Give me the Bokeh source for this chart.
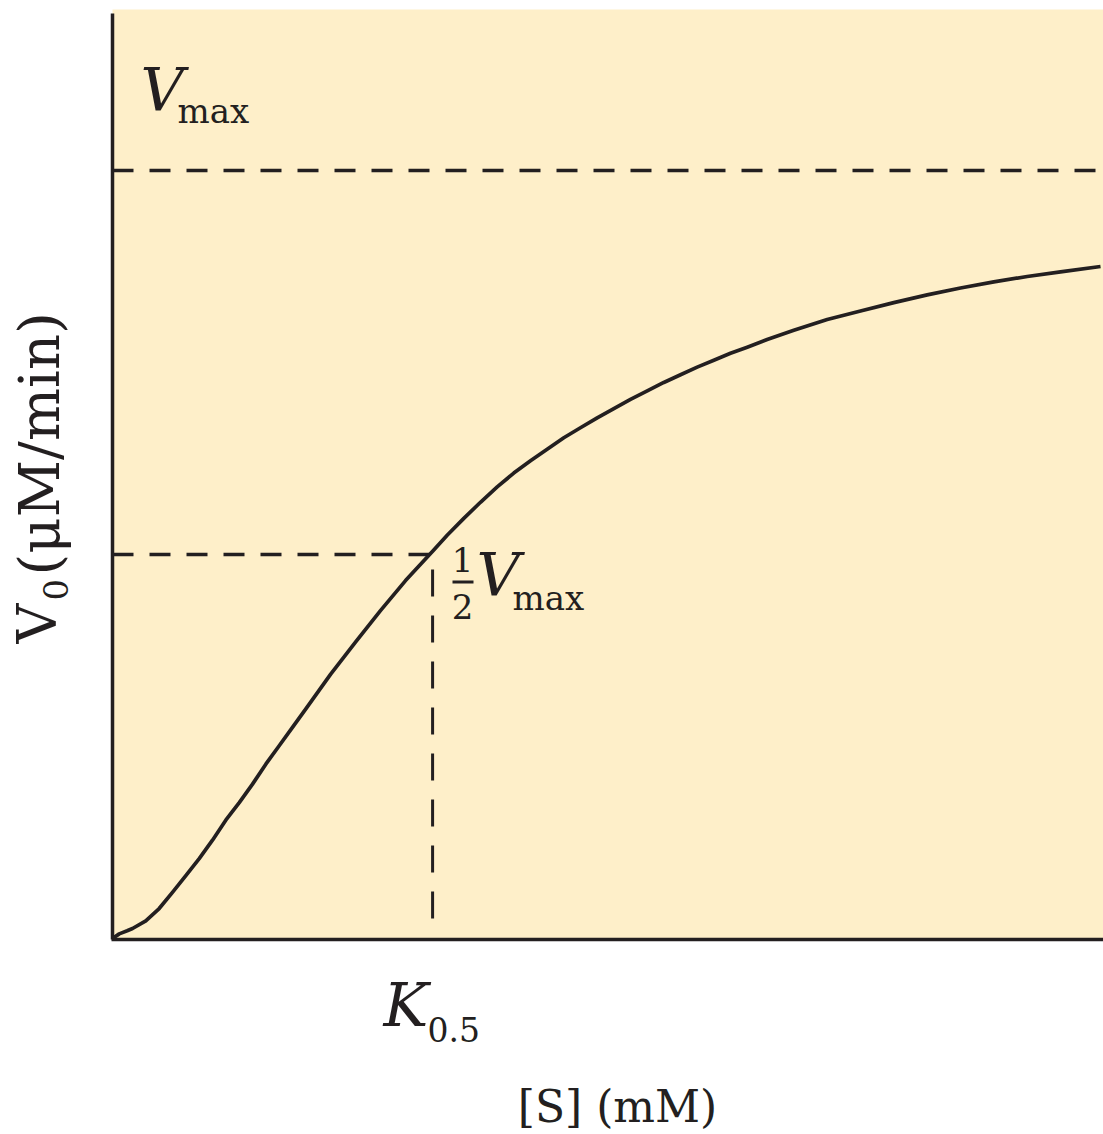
import math
from bokeh.plotting import figure
from bokeh.models import Range1d, Label, BoxAnnotation
from bokeh.embed import file_html
from bokeh.resources import INLINE

# ---- data (arbitrary units: [S] in mM, V0 as fraction of Vmax)
s_conc = [0.0, 0.068, 0.148, 0.202, 0.336, 0.471, 0.605, 0.740, 0.875, 1.009,
          1.143, 1.279, 1.413, 1.547, 1.682, 1.816, 1.951, 2.200, 2.452, 2.704,
          2.957, 3.242, 3.377, 3.545, 3.713, 3.882, 4.049, 4.218, 4.386, 4.554,
          4.722, 4.891, 5.059, 5.227, 5.396, 5.563, 5.732, 5.900, 6.068, 6.236,
          6.405, 6.606, 6.875, 7.212, 7.548, 7.884, 8.221, 8.557, 8.893, 9.230,
          9.566, 9.970]
v0 = [0.0, 0.006, 0.010, 0.013, 0.023, 0.039, 0.060, 0.082, 0.104, 0.128,
      0.154, 0.177, 0.201, 0.227, 0.251, 0.275, 0.299, 0.344, 0.386, 0.427,
      0.466, 0.506, 0.525, 0.547, 0.568, 0.588, 0.606, 0.622, 0.637, 0.652,
      0.665, 0.678, 0.690, 0.702, 0.713, 0.724, 0.734, 0.744, 0.753, 0.762,
      0.770, 0.780, 0.792, 0.806, 0.817, 0.828, 0.838, 0.847, 0.855, 0.862,
      0.868, 0.875]
vmax = 1.0
half_vmax = 0.5
k_half = 3.23

INK = "#231f20"
FILL = "#feefc9"
FONT = "DejaVu Serif"
W, H = 1103, 1134

# page-pixel -> data helpers (for placing frame edges and text annotations)
def X(px):
    return (px - 112) / 99.1

def Y(py):
    return (938 - py) / 768.0

p = figure(width=W, height=H, output_backend="svg", toolbar_location=None,
           x_range=Range1d(X(0), X(W)), y_range=Range1d(Y(H), Y(0)),
           x_axis_location=None, y_axis_location=None,
           min_border=0)
p.background_fill_color = "white"
p.border_fill_color = "white"
p.outline_line_color = None
p.grid.visible = False

# plot area background
p.add_layout(BoxAnnotation(left=0, right=X(W), bottom=0, top=Y(9),
                           fill_color=FILL, fill_alpha=1.0, line_color=None,
                           level="underlay"))

# axis lines
p.line([0, 0], [Y(939), Y(13)], line_color=INK, line_width=3.5)
p.line([X(111), X(W)], [Y(939), Y(939)], line_color=INK, line_width=3.5)

# dashed guide lines
p.line([0, X(W)], [vmax, vmax], line_color=INK, line_width=3.5, line_dash="21 16")
p.line([0, k_half], [half_vmax, half_vmax], line_color=INK, line_width=3.5, line_dash="21 16")
p.line([k_half, k_half], [Y(918), half_vmax], line_color=INK, line_width=3, line_dash="27 19")

# curve
p.line(s_conc, v0, line_color=INK, line_width=3.7, line_join="round")

SHIFT = 0.39  # renderer's baseline offset, as a fraction of the font size

def lab(px, py, text, size, style="normal", align="left", rotated=False):
    """Place text with its baseline at page pixel (px, py)."""
    if rotated:
        px = px - SHIFT * size
        angle = math.pi / 2
    else:
        py = py - SHIFT * size
        angle = 0.0
    p.add_layout(Label(x=X(px), y=Y(py), text=text, text_font=FONT,
                       text_font_size=f"{size}px", text_font_style=style,
                       text_color=INK, text_align=align,
                       text_baseline="alphabetic", angle=angle))

# Vmax label at top
lab(140, 113, "V", 60, "italic")
lab(177, 124, "max", 34)

# 1/2 Vmax label
lab(462, 572, "1", 34, align="center")
lab(462, 619, "2", 34, align="center")
p.line([X(452), X(473)], [Y(581.5), Y(581.5)], line_color=INK, line_width=3)
lab(476, 598, "V", 60, "italic")
lab(512, 611, "max", 34)

# K0.5
lab(383, 1028, "K", 60, "italic")
lab(427, 1042, "0.5", 33)

# x-axis title
lab(617, 1123, "[S] (mM)", 44, align="center")

# y-axis title (rotated)
lab(58, 643, "V", 55, rotated=True)
lab(68, 600, "0", 34, rotated=True)
lab(61, 575, "(μM/min)", 56, rotated=True)

open("out.html", "w").write(file_html(p, INLINE))
